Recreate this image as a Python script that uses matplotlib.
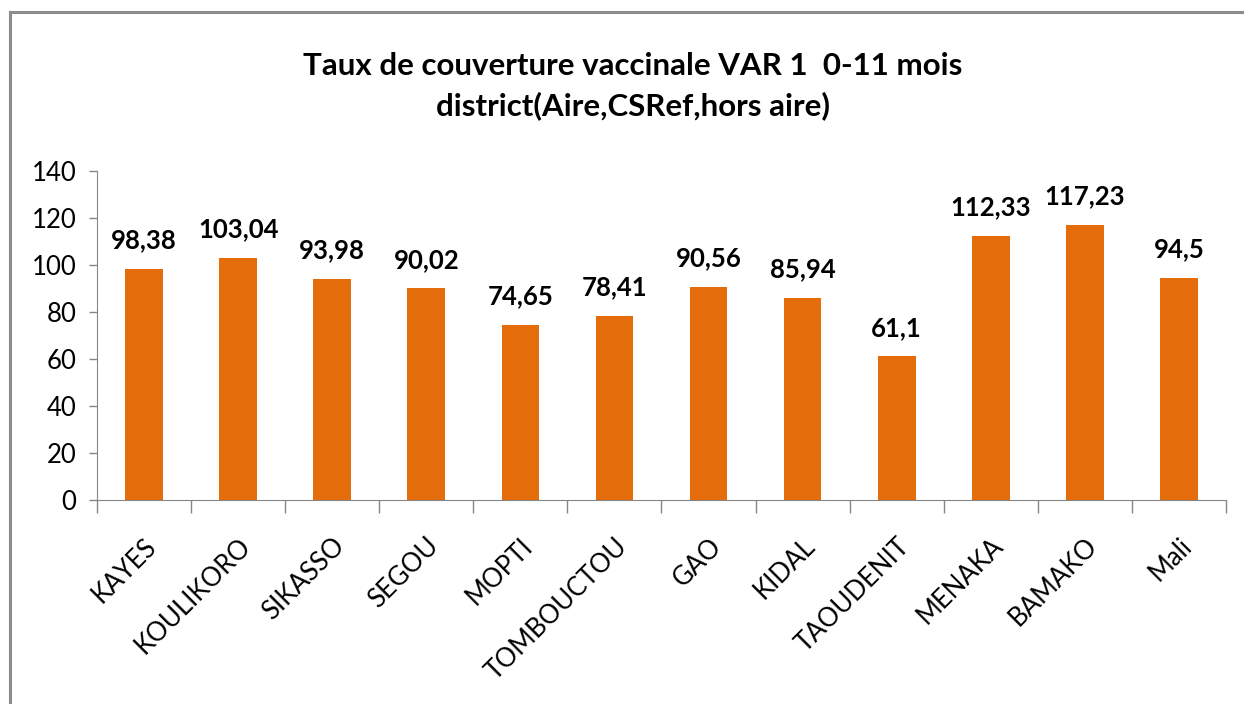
import matplotlib
matplotlib.use("Agg")
import matplotlib.pyplot as plt
from matplotlib.lines import Line2D

categories = ["KAYES", "KOULIKORO", "SIKASSO", "SEGOU", "MOPTI", "TOMBOUCTOU",
              "GAO", "KIDAL", "TAOUDENIT", "MENAKA", "BAMAKO", "Mali"]
values = [98.38, 103.04, 93.98, 90.02, 74.65, 78.41, 90.56, 85.94, 61.1, 112.33, 117.23, 94.5]
labels = ["98,38", "103,04", "93,98", "90,02", "74,65", "78,41", "90,56", "85,94",
          "61,1", "112,33", "117,23", "94,5"]
yticks = [0, 20, 40, 60, 80, 100, 120, 140]
title = "Taux de couverture vaccinale VAR 1  0-11 mois\ndistrict(Aire,CSRef,hors aire)"

plt.rcParams['font.family'] = ['Lato', 'DejaVu Sans']

fig = plt.figure(figsize=(12.44, 7.04), dpi=100)
fig.patch.set_facecolor('white')

# frame (left and top visible)
fig.add_artist(Line2D([9.5/1244, 9.5/1244], [0, 1 - 11.5/704], transform=fig.transFigure,
                      color='#8c8c8c', lw=2.2))
fig.add_artist(Line2D([9.5/1244, 1.0], [1 - 11.5/704, 1 - 11.5/704], transform=fig.transFigure,
                      color='#8c8c8c', lw=2.2))

ax = fig.add_axes([97/1244, 1 - 500/704, (1226 - 97)/1244, (500 - 171)/704])
x = list(range(len(categories)))
ax.bar(x, values, width=0.4, color='#E46C0A', zorder=2)
ax.set_xlim(-0.5, len(categories) - 0.5)
ax.set_ylim(0, 140)
ax.set_yticks(yticks)
ax.set_yticklabels([str(v) for v in yticks], fontsize=18.5, color='#000000')
ax.tick_params(axis='y', direction='out', length=6, color='#868686', width=1, pad=9)

# x ticks between categories
ax.set_xticks([i - 0.5 for i in range(len(categories) + 1)], minor=False)
ax.set_xticklabels([])
ax.tick_params(axis='x', which='major', direction='out', length=9, color='#868686', width=1)
ax.set_xticks(x, minor=True)
ax.set_xticklabels(categories, minor=True, rotation=45, ha='right', va='top',
                   rotation_mode='anchor', fontsize=18.5, color='#000000')
ax.tick_params(axis='x', which='minor', length=0, pad=24)

for s in ['top', 'right']:
    ax.spines[s].set_visible(False)
ax.spines['left'].set_color('#868686')
ax.spines['bottom'].set_color('#868686')

for xi, v, lab in zip(x, values, labels):
    ax.annotate(lab, (xi, v), xytext=(0, 12), textcoords='offset points',
                ha='center', va='bottom', fontsize=18.5, fontweight='bold', color='#000000')

fig.text(633/1244, 1 - 86/704, title, ha='center', va='center', fontsize=22.5,
         fontweight='bold', color='#000000', linespacing=1.45)

fig.savefig("out.png", dpi=100)
